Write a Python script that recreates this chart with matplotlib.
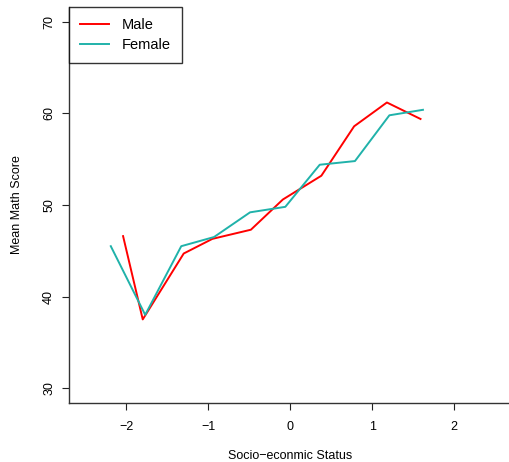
import numpy as np
import matplotlib
matplotlib.use("Agg")
import matplotlib.pyplot as plt

plt.rcParams['font.family'] = ['Liberation Sans', 'DejaVu Sans']

# mean math score by socio-economic status bin
male_ses = [-2.04, -1.80, -1.30, -0.95, -0.48, -0.09, 0.38, 0.78, 1.18, 1.59]
male_score = [46.6, 37.5, 44.7, 46.3, 47.3, 50.6, 53.2, 58.6, 61.2, 59.4]
female_ses = [-2.19, -1.77, -1.33, -0.93, -0.49, -0.06, 0.36, 0.79, 1.21, 1.62]
female_score = [45.5, 38.0, 45.5, 46.5, 49.2, 49.8, 54.4, 54.8, 59.8, 60.4]

xticks = [-2, -1, 0, 1, 2]
yticks = [30, 40, 50, 60, 70]

fig = plt.figure(figsize=(5.09, 4.62), dpi=100)
ax = fig.add_axes([69/509, 59.3/462, 1 - 69/509, (402.7 - 7.3)/462])

ax.plot(male_ses, male_score, color='#FF0000', lw=1.4, label='Male')
ax.plot(female_ses, female_score, color='#20B2AA', lw=1.4, label='Female')

ax.set_xlim(-2.70, 2.67)
ax.set_ylim(28.4, 71.6)
ax.set_xticks(xticks)
ax.set_yticks(yticks)
ax.set_xticklabels(['\u2212' + str(-t) if t < 0 else str(t) for t in xticks])
ax.set_yticklabels([str(t) for t in yticks], rotation=90, va='center')

for s in ['top', 'right']:
    ax.spines[s].set_visible(False)
for s in ['left', 'bottom']:
    ax.spines[s].set_linewidth(1.0)
    ax.spines[s].set_color('#333333')

ax.tick_params(axis='both', direction='out', length=5, width=0.8, labelsize=9, color='#222222')
ax.tick_params(axis='x', pad=8)
ax.tick_params(axis='y', pad=5)

fig.text(290/509, 1 - 456/462, 'Socio\u2212econmic Status', ha='center', va='center', fontsize=9)
fig.text(17/509, 1 - 205/462, 'Mean Math Score', ha='center', va='center', rotation=90, fontsize=9)

leg = ax.legend(loc='upper left', fontsize=10.5, frameon=True, fancybox=False,
                borderaxespad=0, handlelength=2.0, handletextpad=0.9,
                borderpad=0.75, labelspacing=0.4)
leg.get_frame().set_edgecolor('black')
leg.get_frame().set_linewidth(1.0)

fig.savefig('out.png', dpi=100)
